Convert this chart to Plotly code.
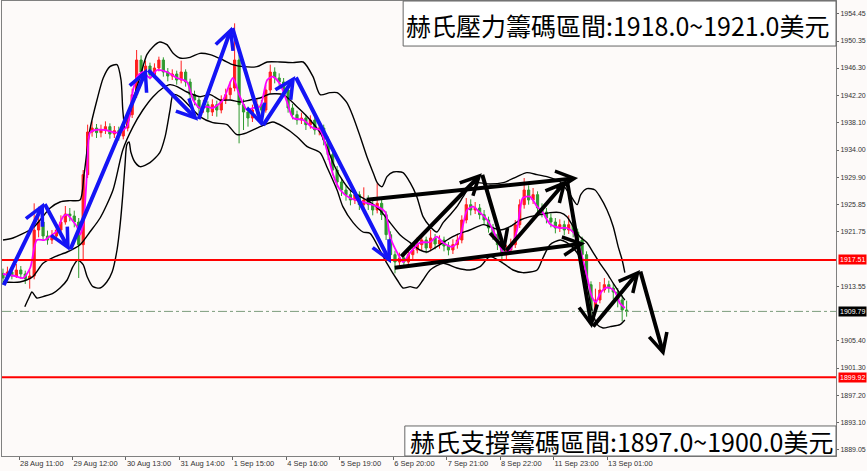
import plotly.graph_objects as go

# ---- hourly-ish candles (one candle = 2 H1 bars) ----
opens = [1915.5, 1914.8, 1915.7, 1915.1, 1916.0, 1915.4, 1914.7, 1915.1, 1922.0, 1923.2,
         1921.1, 1920.5, 1921.1, 1922.0, 1923.2, 1924.4, 1924.1, 1923.2, 1919.8, 1930.3,
         1936.7, 1937.3, 1936.6, 1937.0, 1937.5, 1936.4, 1936.9, 1936.1, 1937.3, 1939.3,
         1942.3, 1947.5, 1945.7, 1946.6, 1945.3, 1946.3, 1947.5, 1945.7, 1945.1, 1945.4,
         1944.5, 1945.7, 1944.2, 1942.3, 1941.5, 1940.3, 1940.8, 1939.7, 1940.8, 1940.0,
         1941.5, 1942.3, 1943.3, 1947.5, 1940.8, 1939.7, 1938.8, 1940.0, 1940.8, 1940.0,
         1943.0, 1945.7, 1944.8, 1944.2, 1943.0, 1940.3, 1939.3, 1938.5, 1938.8, 1937.8,
         1938.5, 1937.0, 1937.3, 1935.5, 1933.3, 1931.0, 1929.2, 1928.0, 1927.3, 1926.5,
         1927.3, 1925.8, 1926.5, 1925.8, 1925.0, 1926.0, 1924.3, 1921.3, 1918.3, 1917.2,
         1917.8, 1917.2, 1918.3, 1919.0, 1919.8, 1920.5, 1919.3, 1920.8, 1919.9, 1920.5,
         1919.6, 1919.0, 1919.8, 1920.5, 1923.5, 1925.8, 1925.0, 1925.3, 1924.3, 1923.5,
         1922.3, 1921.3, 1919.8, 1918.3, 1919.0, 1919.8, 1922.8, 1925.8, 1928.0, 1926.5,
         1927.3, 1925.3, 1924.7, 1923.8, 1923.2, 1922.3, 1922.8, 1922.0, 1922.8, 1921.7,
         1920.5, 1918.3, 1913.8, 1910.0, 1911.5, 1913.0, 1913.8, 1913.3, 1912.7, 1911.5, 1910.0]
highs = [1916.2, 1916.5, 1916.4, 1916.9, 1916.6, 1915.9, 1916.0, 1926.0, 1925.5, 1924.0,
         1921.9, 1922.0, 1922.9, 1924.2, 1925.6, 1925.3, 1924.9, 1923.8, 1931.0, 1937.8,
         1938.3, 1937.9, 1937.8, 1938.3, 1938.0, 1937.6, 1937.5, 1938.0, 1940.0, 1943.2,
         1949.0, 1948.2, 1947.4, 1947.1, 1947.0, 1948.0, 1947.9, 1946.3, 1946.1, 1945.9,
         1947.4, 1946.1, 1944.7, 1942.9, 1942.0, 1941.5, 1941.3, 1941.6, 1941.4, 1942.2,
         1943.2, 1944.3, 1953.0, 1948.3, 1941.6, 1940.5, 1940.8, 1941.6, 1941.5, 1943.8,
         1946.8, 1946.4, 1945.5, 1944.8, 1943.5, 1940.9, 1939.9, 1939.6, 1939.3, 1939.2,
         1939.0, 1938.0, 1937.8, 1936.0, 1933.8, 1931.6, 1929.8, 1928.7, 1928.0, 1928.0,
         1927.8, 1928.4, 1927.2, 1926.4, 1929.0, 1926.6, 1924.8, 1921.8, 1918.9, 1918.6,
         1918.5, 1919.0, 1919.8, 1920.9, 1921.4, 1921.0, 1922.0, 1921.4, 1921.2, 1921.0,
         1920.2, 1920.6, 1921.3, 1924.2, 1926.8, 1926.6, 1926.2, 1925.9, 1925.0, 1924.0,
         1922.9, 1921.8, 1920.3, 1919.8, 1920.7, 1923.5, 1926.6, 1929.8, 1928.7, 1928.3,
         1927.8, 1926.0, 1925.3, 1924.5, 1923.8, 1923.6, 1923.4, 1924.2, 1923.3, 1922.2,
         1921.0, 1918.8, 1914.3, 1913.2, 1914.2, 1914.8, 1914.4, 1913.9, 1913.3, 1912.2, 1911.4]
lows = [1913.8, 1914.4, 1914.6, 1914.8, 1914.7, 1913.9, 1913.2, 1914.6, 1920.9, 1920.4,
        1919.8, 1919.9, 1920.6, 1921.6, 1922.8, 1923.3, 1922.4, 1914.8, 1917.5, 1929.8,
        1936.0, 1935.8, 1935.9, 1936.4, 1935.7, 1935.8, 1935.4, 1935.6, 1936.8, 1938.8,
        1941.8, 1944.9, 1945.0, 1944.6, 1944.8, 1945.8, 1945.0, 1944.3, 1944.5, 1943.8,
        1944.0, 1943.5, 1941.6, 1940.7, 1939.5, 1939.6, 1938.6, 1939.1, 1939.0, 1939.5,
        1940.9, 1941.6, 1942.8, 1935.0, 1937.0, 1937.5, 1938.2, 1939.3, 1939.2, 1939.6,
        1942.5, 1944.0, 1943.5, 1942.3, 1939.6, 1938.6, 1937.8, 1937.9, 1937.0, 1937.2,
        1936.3, 1936.2, 1934.7, 1932.5, 1930.2, 1928.4, 1927.1, 1926.4, 1925.7, 1925.9,
        1925.0, 1925.2, 1925.0, 1924.2, 1924.5, 1923.5, 1920.5, 1917.3, 1915.5, 1916.5,
        1916.5, 1916.8, 1917.6, 1918.5, 1919.0, 1918.5, 1918.8, 1919.1, 1919.2, 1918.8,
        1918.2, 1918.4, 1919.2, 1920.0, 1923.0, 1924.2, 1924.4, 1923.6, 1922.8, 1921.6,
        1920.5, 1919.0, 1917.0, 1917.6, 1918.4, 1919.3, 1922.3, 1925.2, 1925.8, 1925.9,
        1924.6, 1923.9, 1923.0, 1922.4, 1921.5, 1921.7, 1921.2, 1921.4, 1920.9, 1919.7,
        1917.4, 1912.9, 1908.6, 1909.4, 1911.0, 1912.6, 1912.6, 1911.6, 1910.4, 1908.3, 1909.0]
closes = [1914.8, 1915.7, 1915.1, 1916.0, 1915.4, 1914.7, 1915.1, 1922.0, 1923.2, 1921.1,
          1920.5, 1921.1, 1922.0, 1923.2, 1924.4, 1924.1, 1923.2, 1919.8, 1930.3, 1936.7,
          1937.3, 1936.6, 1937.0, 1937.5, 1936.4, 1936.9, 1936.1, 1937.3, 1939.3, 1942.3,
          1947.5, 1945.7, 1946.6, 1945.3, 1946.3, 1947.5, 1945.7, 1945.1, 1945.4, 1944.5,
          1945.7, 1944.2, 1942.3, 1941.5, 1940.3, 1940.8, 1939.7, 1940.8, 1940.0, 1941.5,
          1942.3, 1943.3, 1947.5, 1940.8, 1939.7, 1938.8, 1940.0, 1940.8, 1940.0, 1943.0,
          1945.7, 1944.8, 1944.2, 1943.0, 1940.3, 1939.3, 1938.5, 1938.8, 1937.8, 1938.5,
          1937.0, 1937.3, 1935.5, 1933.3, 1931.0, 1929.2, 1928.0, 1927.3, 1926.5, 1927.3,
          1925.8, 1926.5, 1925.8, 1925.0, 1926.0, 1924.3, 1921.3, 1918.3, 1917.2, 1917.8,
          1917.2, 1918.3, 1919.0, 1919.8, 1920.5, 1919.3, 1920.8, 1919.9, 1920.5, 1919.6,
          1919.0, 1919.8, 1920.5, 1923.5, 1925.8, 1925.0, 1925.3, 1924.3, 1923.5, 1922.3,
          1921.3, 1919.8, 1918.3, 1919.0, 1919.8, 1922.8, 1925.8, 1928.0, 1926.5, 1927.3,
          1925.3, 1924.7, 1923.8, 1923.2, 1922.3, 1922.8, 1922.0, 1922.8, 1921.7, 1920.5,
          1918.3, 1913.8, 1910.0, 1911.5, 1913.0, 1913.8, 1913.3, 1912.7, 1911.5, 1910.0, 1909.8]
bars = list(range(len(closes)))

# ---- magenta moving average ----
ma_bars = [0, 2.7, 4.5, 6.1, 7.6, 9.4, 10.6, 11.9, 13.5, 14.4, 15.5, 16.6, 17.3, 18.0, 18.9, 19.5,
           20.7, 22.9, 25.6, 27.8, 29.2, 30.1, 31.4, 33.0, 34.6, 36.8, 39.1, 41.3, 42.7, 44.2,
           45.8, 47.1, 49.4, 51.6, 53.2, 54.8, 56.1, 57.7, 59.3, 60.6, 62.2, 63.8, 65.1, 67.4,
           69.6, 71.2, 72.7, 74.1, 75.7, 77.9, 80.8, 84.0, 85.8, 86.9, 88.5, 89.8, 91.4, 93.6,
           95.9, 97.4, 98.8, 101.0, 102.6, 104.2, 105.5, 107.1, 108.7, 110.0, 111.6, 112.3,
           113.8, 115.4, 116.7, 118.3, 119.9, 121.2, 122.8, 125.1, 126.6, 128.0, 129.1, 130.2,
           131.3, 132.2, 133.1, 134.0, 135.2, 136.3, 137.4, 138.5, 139.6]
ma_prices = [1915.4, 1915.1, 1914.8, 1916.3, 1920.5, 1920.5, 1921.1, 1921.7, 1924.0, 1924.3,
             1923.5, 1922.5, 1921.3, 1922.8, 1931.0, 1936.6, 1937.0, 1937.0, 1936.6, 1937.5,
             1943.0, 1945.0, 1945.7, 1944.8, 1946.0, 1945.7, 1944.8, 1944.2, 1941.5, 1940.3,
             1940.5, 1940.3, 1941.5, 1944.8, 1942.0, 1940.0, 1940.3, 1940.5, 1944.5, 1945.0,
             1943.9, 1941.1, 1938.8, 1938.5, 1937.3, 1937.0, 1934.0, 1930.3, 1928.0, 1926.8,
             1926.2, 1925.5, 1924.7, 1921.0, 1918.6, 1917.2, 1918.6, 1920.1, 1920.2, 1921.0,
             1920.1, 1919.5, 1921.0, 1925.0, 1925.5, 1924.6, 1923.5, 1922.0, 1919.5, 1918.6,
             1919.0, 1922.0, 1926.8, 1927.0, 1925.5, 1924.6, 1922.9, 1922.3, 1922.3, 1921.7,
             1920.1, 1917.5, 1914.5, 1912.0, 1911.2, 1912.4, 1913.3, 1913.3, 1912.7, 1911.0, 1910.3]

# ---- Bollinger bands ----
upper_bars = [0, 2.25, 6.7, 10.6, 12.8, 15.0, 17.3, 18.2, 19.5, 21.1, 22.5, 24.0, 25.6, 26.5,
              26.9, 27.4, 28.1, 29.2, 30.8, 32.3, 33.7, 35.2, 36.8, 38.2, 39.7, 42.0, 44.2,
              46.5, 49.4, 51.6, 53.9, 57.0, 59.3, 62.2, 65.1, 67.4, 69.6, 71.2, 73.4, 75.0,
              77.2, 78.6, 80.2, 81.7, 83.1, 84.0, 85.1, 86.2, 87.6, 89.8, 91.4, 92.9, 94.3,
              95.9, 97.4, 98.8, 100.4, 101.9, 103.3, 104.8, 106.4, 109.3, 112.3, 115.4, 117.6,
              119.9, 122.1, 125.1, 127.3, 128.9, 129.7, 131.1, 132.9, 134.0, 135.6, 137.0,
              138.1, 139.0, 139.6]
upper_prices = [1920.5, 1920.8, 1922.3, 1925.3, 1926.2, 1926.4, 1926.5, 1930.3, 1937.0, 1941.5,
                1944.8, 1946.5, 1946.8, 1944.5, 1940.0, 1937.3, 1938.2, 1941.5, 1945.0, 1948.3,
                1949.5, 1950.2, 1949.8, 1948.5, 1947.8, 1947.9, 1948.5, 1948.3, 1947.5, 1946.8,
                1946.5, 1946.5, 1947.2, 1947.2, 1947.1, 1947.2, 1945.0, 1942.3, 1942.6, 1942.6,
                1941.1, 1939.0, 1936.0, 1933.0, 1930.6, 1929.1, 1928.5, 1930.0, 1930.7, 1930.6,
                1929.1, 1927.0, 1924.0, 1922.5, 1921.7, 1923.1, 1924.3, 1925.5, 1927.0, 1928.5,
                1929.1, 1928.9, 1929.1, 1930.0, 1930.6, 1930.3, 1930.0, 1929.2, 1927.3, 1925.8,
                1927.3, 1928.2, 1928.0, 1927.0, 1925.0, 1922.5, 1919.5, 1917.5, 1915.6]
middle_bars = [0, 3.8, 6.7, 9.0, 11.7, 14.4, 17.3, 19.5, 21.8, 24.7, 26.9, 29.2, 31.4, 33.7,
               35.9, 37.5, 39.1, 41.3, 44.2, 46.5, 48.7, 51.0, 53.2, 55.5, 57.7, 59.9, 62.9,
               66.0, 68.3, 71.2, 72.7, 74.1, 75.7, 77.9, 80.2, 82.4, 84.6, 86.9, 89.1, 91.4,
               93.6, 95.2, 97.4, 99.7, 101.9, 104.8, 107.8, 109.3, 111.6, 113.8, 116.1, 118.3,
               120.6, 122.8, 125.1, 126.6, 128.0, 129.5, 131.1, 132.5, 134.0, 135.6, 137.0,
               138.5, 139.6]
middle_prices = [1914.2, 1914.2, 1915.0, 1917.0, 1918.0, 1918.7, 1919.8, 1921.7, 1923.8, 1928.0,
                 1934.0, 1937.5, 1940.0, 1942.0, 1943.3, 1943.8, 1943.5, 1942.7, 1942.0, 1942.3,
                 1941.5, 1941.5, 1941.2, 1941.5, 1941.8, 1942.4, 1942.3, 1940.5, 1939.0, 1936.6,
                 1934.5, 1932.1, 1930.0, 1928.0, 1927.0, 1926.2, 1925.0, 1923.1, 1921.3, 1920.1,
                 1919.0, 1918.7, 1919.5, 1920.5, 1921.3, 1922.0, 1922.8, 1922.5, 1922.0, 1922.5,
                 1923.5, 1924.0, 1924.3, 1924.6, 1924.6, 1924.0, 1922.5, 1921.0, 1920.1, 1918.6,
                 1917.0, 1915.5, 1914.0, 1912.5, 1911.5]
lower_bars = [4.9, 5.8, 6.5, 7.6, 9.4, 11.2, 12.8, 14.4, 15.7, 16.8, 18.0, 18.9, 20.2, 21.8,
              23.3, 24.5, 25.6, 26.3, 26.9, 27.4, 27.8, 28.3, 28.7, 29.6, 30.8, 33.0, 35.2,
              36.4, 37.5, 38.2, 39.7, 42.7, 44.2, 47.1, 50.3, 52.5, 54.8, 57.7, 60.6, 62.9,
              66.0, 68.3, 71.2, 72.7, 75.0, 76.3, 78.6, 80.8, 82.4, 84.6, 86.2, 88.5, 89.8,
              91.4, 92.9, 94.3, 95.9, 98.8, 101.9, 104.8, 107.1, 109.3, 112.3, 114.5, 116.7,
              119.9, 121.2, 122.8, 125.1, 126.6, 128.4, 130.0, 131.1, 132.2, 133.4, 134.7,
              136.3, 138.5, 139.6]
lower_prices = [1910.5, 1911.8, 1912.7, 1911.8, 1912.1, 1912.5, 1913.3, 1914.5, 1916.5, 1917.5,
                1916.8, 1915.0, 1913.5, 1913.3, 1914.2, 1915.7, 1919.0, 1922.8, 1927.3, 1931.8,
                1934.8, 1935.2, 1933.7, 1932.2, 1931.5, 1932.1, 1933.6, 1936.0, 1940.0, 1942.3,
                1942.0, 1940.0, 1939.0, 1938.1, 1937.8, 1936.3, 1936.6, 1937.5, 1938.2, 1937.5,
                1936.0, 1934.5, 1933.6, 1931.5, 1928.0, 1925.5, 1923.1, 1921.7, 1921.5, 1919.0,
                1917.0, 1914.5, 1913.3, 1913.5, 1913.3, 1914.5, 1916.0, 1917.0, 1916.3, 1916.0,
                1916.5, 1918.0, 1917.0, 1916.0, 1915.6, 1916.0, 1917.8, 1919.8, 1920.5, 1920.1,
                1919.0, 1917.2, 1913.8, 1910.0, 1907.8, 1907.3, 1907.5, 1907.8, 1908.5]

# ---- hand drawn arrows ----
blue_path_bars = [0, 9.2, 15.0, 32.3, 43.8, 51.4, 58.2, 65.6, 87.1]
blue_path_prices = [1913.5, 1926.1, 1918.9, 1946.2, 1938.4, 1952.5, 1937.5, 1945.1, 1917.0]
black_path_bars = [89.1, 107.5, 112.7, 126.6, 132.2, 143.0, 148.4]
black_path_prices = [1917.8, 1930.5, 1918.7, 1929.5, 1907.3, 1916.0, 1903.1]
channel_top_bars = [81.3, 129.1]
channel_top_prices = [1926.5, 1929.8]
channel_bottom_bars = [87.6, 130.7]
channel_bottom_prices = [1916.3, 1920.0]

# ---- levels and axis labels ----
resistance_level = 1917.51
support_level = 1899.92
last_price = 1909.79
price_ticks = [1954.45, 1950.35, 1946.30, 1942.20, 1938.10, 1934.00, 1929.90, 1925.85,
               1921.75, 1913.55, 1905.40, 1901.30, 1897.20, 1893.10, 1889.05]
date_labels = ["28 Aug 11:00", "29 Aug 12:00", "30 Aug 13:00", "31 Aug 14:00", "1 Sep 15:00",
               "4 Sep 16:00", "5 Sep 19:00", "6 Sep 20:00", "7 Sep 21:00", "8 Sep 22:00",
               "11 Sep 23:00", "13 Sep 01:00"]
resist_text = "赫氏壓力籌碼區間:1918.0~1921.0美元"
support_text = "赫氏支撐籌碼區間:1897.0~1900.0美元"

BG = "#fdfaf9"
AXIS_FONT = dict(family="Liberation Sans, Arial, sans-serif", size=7, color="#333333")
DATE_FONT = dict(family="Liberation Sans, Arial, sans-serif", size=7.5, color="#333333")
CJK_FONT = dict(family="Noto Sans CJK TC, Noto Sans, sans-serif", size=25, color="#000000")

fig = go.Figure()

fig.add_trace(go.Candlestick(
    x=bars, open=opens, high=highs, low=lows, close=closes,
    increasing=dict(line=dict(color="#ff1f1f", width=1), fillcolor="#ff1f1f"),
    decreasing=dict(line=dict(color="#2f9a2f", width=1), fillcolor="#2f9a2f"),
    whiskerwidth=0, showlegend=False, hoverinfo="skip"))

for bx, by in [(upper_bars, upper_prices), (middle_bars, middle_prices), (lower_bars, lower_prices)]:
    fig.add_trace(go.Scatter(x=bx, y=by, mode="lines", showlegend=False, hoverinfo="skip",
                             line=dict(color="#000000", width=1.4, shape="spline", smoothing=0.7)))

fig.add_trace(go.Scatter(x=ma_bars, y=ma_prices, mode="lines", showlegend=False, hoverinfo="skip",
                         line=dict(color="#ff00ff", width=1.8, shape="spline", smoothing=0.7)))

# horizontal levels
for lvl in (resistance_level, support_level):
    fig.add_shape(type="line", xref="paper", x0=0, x1=1, yref="y", y0=lvl, y1=lvl,
                  line=dict(color="#ff0000", width=2))
fig.add_shape(type="line", xref="paper", x0=0, x1=1, yref="y", y0=last_price, y1=last_price,
              line=dict(color="#7d9c7d", width=1, dash="dashdot"))

# white boxes behind the two captions
fig.add_shape(type="rect", xref="paper", yref="paper", x0=0.481, x1=1, y0=0.901, y1=1,
              fillcolor="#ffffff", line=dict(color="#666666", width=1), layer="above")
fig.add_shape(type="rect", xref="paper", yref="paper", x0=0.483, x1=1, y0=0, y1=0.066,
              fillcolor="#ffffff", line=dict(color="#666666", width=1), layer="above")


def add_arrow(x0, y0, x1, y1, color):
    fig.add_annotation(x=x1, y=y1, ax=x0, ay=y0, xref="x", yref="y", axref="x", ayref="y",
                       text="", showarrow=True, arrowhead=5, arrowsize=0.9, arrowwidth=4,
                       arrowcolor=color, standoff=0, startstandoff=0)


for k in range(len(blue_path_bars) - 1):
    add_arrow(blue_path_bars[k], blue_path_prices[k], blue_path_bars[k + 1], blue_path_prices[k + 1], "#1414f5")
add_arrow(channel_top_bars[0], channel_top_prices[0], channel_top_bars[1], channel_top_prices[1], "#000000")
add_arrow(channel_bottom_bars[0], channel_bottom_prices[0], channel_bottom_bars[1], channel_bottom_prices[1], "#000000")
for k in range(len(black_path_bars) - 1):
    add_arrow(black_path_bars[k], black_path_prices[k], black_path_bars[k + 1], black_path_prices[k + 1], "#000000")

# price tags on the right scale
for val, col in [(resistance_level, "#ff0000"), (last_price, "#000000"), (support_level, "#ff0000")]:
    fig.add_annotation(x=1, xref="paper", xanchor="left", xshift=2, y=val, yref="y",
                       text=f"{val:.2f}", showarrow=False, bgcolor=col, borderpad=1,
                       font=dict(family=AXIS_FONT["family"], size=7, color="#ffffff"))

# captions
fig.add_annotation(x=0.7386, xref="paper", xanchor="center", y=0.947, yref="paper", yanchor="middle",
                   text=resist_text, showarrow=False, font=CJK_FONT)
fig.add_annotation(x=0.7428, xref="paper", xanchor="center", y=0.033, yref="paper", yanchor="middle",
                   text=support_text, showarrow=False, font=CJK_FONT)

fig.update_layout(
    width=867, height=471,
    margin=dict(l=2, r=31, t=1, b=15),
    paper_bgcolor=BG, plot_bgcolor=BG,
    showlegend=False,
    xaxis=dict(range=[-0.22, 187.0], tickvals=[3.6 + 12 * k for k in range(len(date_labels))],
               ticktext=date_labels, ticks="outside", ticklen=3, tickcolor="#666666",
               ticklabelposition="outside right", tickfont=DATE_FONT, showgrid=False,
               zeroline=False, showline=True, linecolor="#808080", linewidth=1, mirror=True,
               rangeslider=dict(visible=False), automargin=False),
    yaxis=dict(range=[1888.1, 1956.35], side="right", tickvals=price_ticks,
               ticktext=[f"{v:.2f}" for v in price_ticks], ticks="outside", ticklen=2,
               tickcolor="#666666", tickfont=AXIS_FONT, showgrid=False, zeroline=False,
               showline=True, linecolor="#808080", linewidth=1, mirror=True, automargin=False),
)

# the page body has a default 8px margin; drop it so the figure sits at the window corner
fig.write_html("out.html", config={"displayModeBar": False},
               post_script="document.body.style.margin='0';")
